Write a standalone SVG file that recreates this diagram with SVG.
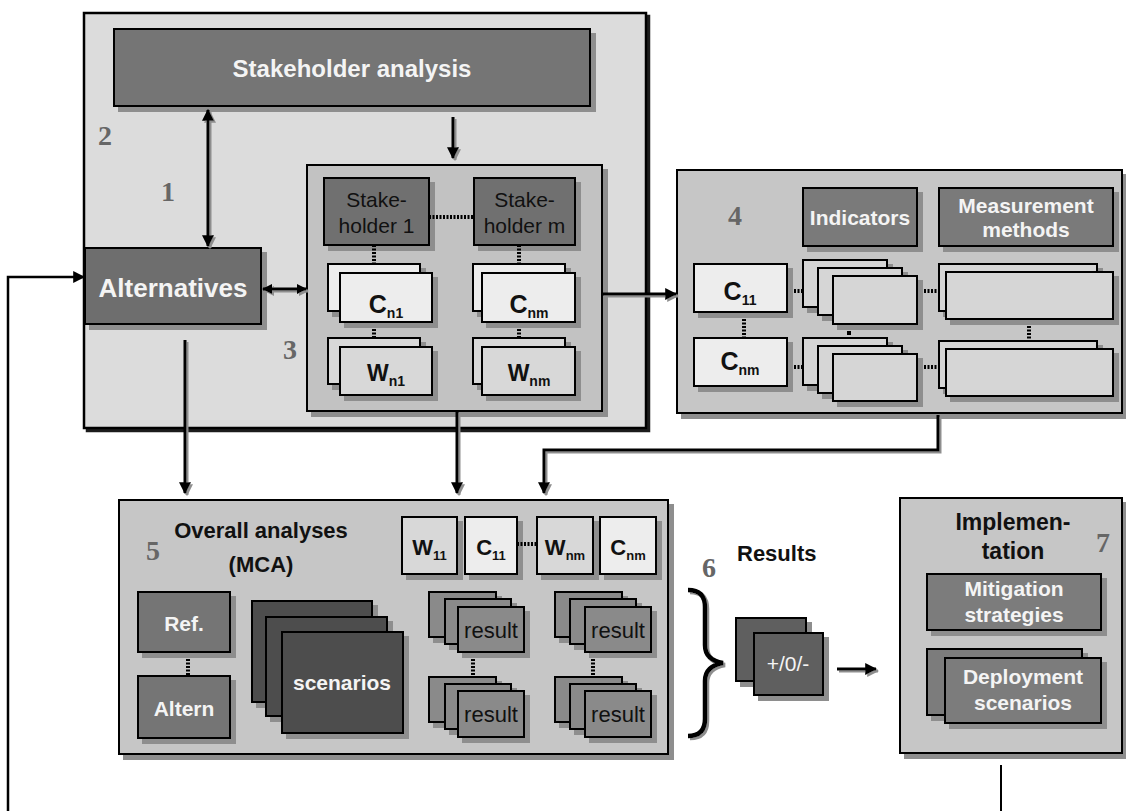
<svg xmlns="http://www.w3.org/2000/svg" width="1126" height="811" viewBox="0 0 1126 811">
  <defs>
    <filter id="sh" x="-10%" y="-10%" width="130%" height="140%">
      <feOffset in="SourceAlpha" dx="5" dy="5" result="o"/>
      <feFlood flood-color="#8e8e8e"/>
      <feComposite in2="o" operator="in" result="s"/>
      <feMerge><feMergeNode in="s"/><feMergeNode in="SourceGraphic"/></feMerge>
    </filter>
    <filter id="shd" x="-5%" y="-5%" width="110%" height="110%">
      <feOffset in="SourceAlpha" dx="3" dy="3" result="o"/>
      <feFlood flood-color="#1a1a1a"/>
      <feComposite in2="o" operator="in" result="s"/>
      <feMerge><feMergeNode in="s"/><feMergeNode in="SourceGraphic"/></feMerge>
    </filter>
    <filter id="sh2" x="-20%" y="-20%" width="140%" height="140%">
      <feOffset in="SourceAlpha" dx="2" dy="2" result="o"/>
      <feFlood flood-color="#8e8e8e"/>
      <feComposite in2="o" operator="in" result="s"/>
      <feMerge><feMergeNode in="s"/><feMergeNode in="SourceGraphic"/></feMerge>
    </filter>
    <marker id="ah" viewBox="0 0 10 10" refX="9" refY="5" markerWidth="12" markerHeight="12" markerUnits="userSpaceOnUse" orient="auto-start-reverse">
      <path d="M0,0 L10,5 L0,10 z" fill="#000"/>
    </marker>
    <marker id="ahs" viewBox="0 0 10 10" refX="9" refY="5" markerWidth="10" markerHeight="10" markerUnits="userSpaceOnUse" orient="auto-start-reverse">
      <path d="M0,0 L10,5 L0,10 z" fill="#000"/>
    </marker>
  </defs>
  <style>
    text { font-family: "Liberation Sans", Arial, sans-serif; }
    .s { filter: url(#sh); stroke: #000; stroke-width: 2; }
    .panel { fill: #c6c6c6; }
    .sub { fill: #c2c2c2; }
    .dark { fill: #747474; }
    .darker { fill: #4e4e4e; }
    .mid { fill: #8a8a8a; }
    .crit { fill: #ededed; }
    .wgt { fill: #d8d8d8; }
    .lite { fill: #d6d6d6; }
    .res { fill: #5e5e5e; }
    .wt { fill: #f4f4f4; font-weight: bold; text-anchor: middle; }
    .bt { fill: #111; text-anchor: middle; }
    .bb { fill: #111; font-weight: bold; text-anchor: middle; }
    .num { font-family: "Liberation Serif", "Times New Roman", serif; font-weight: bold; font-size: 28px; fill: #666; text-anchor: middle; }
    .dot { stroke: #000; stroke-width: 4; stroke-dasharray: 2 1.5; fill: none; }
    .arr { stroke: #000; stroke-width: 3; fill: none; }
  </style>

  <!-- 2: stakeholder frame -->
  <g id="frame2">
    <rect x="84" y="13" width="562" height="415" fill="#dcdcdc" stroke="#000" stroke-width="2.5" filter="url(#shd)"/>
    <text class="num" x="105" y="145">2</text>
    <text class="num" x="168" y="201">1</text>
    <text class="num" x="290" y="359">3</text>
  </g>

  <g id="stakeholder-analysis">
    <rect class="s dark" x="114" y="29" width="476" height="77"/>
    <text class="wt" x="352" y="77" font-size="24">Stakeholder analysis</text>
  </g>

  <g id="alternatives">
    <rect class="s" fill="#6e6e6e" x="85" y="248" width="176" height="76"/>
    <text class="wt" x="173" y="297" font-size="26">Alternatives</text>
  </g>

  <!-- 3: stakeholder criteria and weights -->
  <g id="stakeholders">
    <rect class="s sub" x="307" y="165" width="295" height="246"/>
    <rect class="s" fill="#707070" x="324" y="178" width="105" height="67"/>
    <text class="bt" x="376.5" y="207" font-size="21">Stake-</text>
    <text class="bt" x="376.5" y="233" font-size="21">holder 1</text>
    <rect class="s" fill="#707070" x="474" y="178" width="101" height="67"/>
    <text class="bt" x="524.5" y="207" font-size="21">Stake-</text>
    <text class="bt" x="524.5" y="233" font-size="21">holder m</text>
    <line class="dot" x1="429" y1="217" x2="474" y2="217"/>
    <line class="dot" x1="374" y1="245" x2="374" y2="264"/>
    <line class="dot" x1="374" y1="322" x2="374" y2="338"/>
    <line class="dot" x1="519" y1="245" x2="519" y2="264"/>
    <line class="dot" x1="519" y1="322" x2="519" y2="338"/>
    <rect class="s crit" x="328" y="264" width="92" height="47"/>
    <rect class="s crit" x="340" y="273" width="92" height="49"/>
    <text class="bb" x="386" y="313" font-size="25">C<tspan font-size="14" dy="5">n1</tspan></text>
    <rect class="s wgt" x="328" y="338" width="92" height="46"/>
    <rect class="s wgt" x="340" y="347" width="92" height="48"/>
    <text class="bb" x="386" y="381" font-size="23">W<tspan font-size="14" dy="5">n1</tspan></text>
    <rect class="s crit" x="473" y="264" width="92" height="47"/>
    <rect class="s crit" x="482" y="273" width="93" height="49"/>
    <text class="bb" x="529" y="313" font-size="25">C<tspan font-size="14" dy="5">nm</tspan></text>
    <rect class="s wgt" x="473" y="338" width="92" height="46"/>
    <rect class="s wgt" x="482" y="347" width="93" height="48"/>
    <text class="bb" x="529" y="381" font-size="23">W<tspan font-size="14" dy="5">nm</tspan></text>
  </g>

  <!-- 4: indicators and measurement methods -->
  <g id="indicators">
    <rect class="s panel" x="677" y="170" width="445" height="243"/>
    <text class="num" x="735" y="225">4</text>
    <rect class="s" fill="#7a7a7a" x="803" y="188" width="114" height="58"/>
    <text class="wt" x="860" y="225" font-size="21">Indicators</text>
    <rect class="s" fill="#7a7a7a" x="939" y="188" width="174" height="58"/>
    <text class="wt" x="1026" y="213" font-size="21">Measurement</text>
    <text class="wt" x="1026" y="237" font-size="21">methods</text>
    <line class="dot" x1="744" y1="312" x2="744" y2="338"/>
    <line class="dot" x1="787" y1="291" x2="803" y2="291"/>
    <line class="dot" x1="787" y1="367" x2="803" y2="367"/>
    <line class="dot" x1="917" y1="291" x2="939" y2="291"/>
    <line class="dot" x1="917" y1="367" x2="939" y2="367"/>
    <line class="dot" x1="1029" y1="319" x2="1029" y2="341"/>
    <rect x="847" y="331" width="4" height="4" fill="#000"/>
    <rect class="s crit" x="694" y="264" width="93" height="48"/>
    <text class="bb" x="740" y="300" font-size="25">C<tspan font-size="14" dy="5">11</tspan></text>
    <rect class="s crit" x="694" y="338" width="93" height="48"/>
    <text class="bb" x="740" y="370" font-size="25">C<tspan font-size="14" dy="5">nm</tspan></text>
    <rect class="s lite" x="803" y="260" width="84" height="47"/>
    <rect class="s lite" x="818" y="268" width="84" height="47"/>
    <rect class="s lite" x="833" y="276" width="84" height="48"/>
    <rect class="s lite" x="803" y="338" width="84" height="47"/>
    <rect class="s lite" x="818" y="346" width="84" height="47"/>
    <rect class="s lite" x="833" y="354" width="84" height="47"/>
    <rect class="s lite" x="939" y="264" width="158" height="47"/>
    <rect class="s lite" x="946" y="272" width="167" height="47"/>
    <rect class="s lite" x="939" y="341" width="158" height="47"/>
    <rect class="s lite" x="946" y="349" width="167" height="47"/>
  </g>

  <!-- 5: overall analyses -->
  <g id="mca">
    <rect class="s panel" x="119" y="500" width="549" height="254"/>
    <text class="num" x="153" y="560">5</text>
    <text class="bb" x="261" y="538" font-size="22">Overall analyses</text>
    <text class="bb" x="261" y="572" font-size="22">(MCA)</text>
    <rect class="s wgt" x="402" y="517" width="55" height="57"/>
    <text class="bb" x="429.5" y="555" font-size="22">W<tspan font-size="13" dy="5">11</tspan></text>
    <rect class="s crit" x="465" y="517" width="52" height="57"/>
    <text class="bb" x="491" y="555" font-size="22">C<tspan font-size="13" dy="5">11</tspan></text>
    <rect class="s wgt" x="537" y="517" width="56" height="57"/>
    <text class="bb" x="565" y="555" font-size="22">W<tspan font-size="13" dy="5">nm</tspan></text>
    <rect class="s crit" x="600" y="517" width="56" height="57"/>
    <text class="bb" x="628" y="555" font-size="22">C<tspan font-size="13" dy="5">nm</tspan></text>
    <line class="dot" x1="517" y1="544" x2="537" y2="544"/>
    <line class="dot" x1="188" y1="652" x2="188" y2="676"/>
    <line class="dot" x1="473" y1="652" x2="473" y2="677"/>
    <line class="dot" x1="593" y1="652" x2="593" y2="677"/>
    <rect class="s dark" x="138" y="592" width="92" height="60"/>
    <text class="wt" x="184" y="631" font-size="21">Ref.</text>
    <rect class="s dark" x="138" y="676" width="92" height="62"/>
    <text class="wt" x="184" y="716" font-size="21">Altern</text>
    <rect class="s darker" x="252" y="601" width="120" height="101"/>
    <rect class="s darker" x="266" y="617" width="121" height="99"/>
    <rect class="s darker" x="282" y="632" width="121" height="101"/>
    <text class="wt" x="342" y="690" font-size="21">scenarios</text>
    <rect class="s mid" x="429" y="592" width="67" height="45"/>
    <rect class="s mid" x="445" y="599" width="66" height="45"/>
    <rect class="s mid" x="458" y="607" width="66" height="45"/>
    <text class="bt" x="491" y="638" font-size="22">result</text>
    <rect class="s mid" x="429" y="677" width="67" height="45"/>
    <rect class="s mid" x="445" y="684" width="66" height="45"/>
    <rect class="s mid" x="458" y="691" width="66" height="46"/>
    <text class="bt" x="491" y="722" font-size="22">result</text>
    <rect class="s mid" x="555" y="592" width="67" height="45"/>
    <rect class="s mid" x="570" y="599" width="66" height="45"/>
    <rect class="s mid" x="585" y="607" width="66" height="45"/>
    <text class="bt" x="618" y="638" font-size="22">result</text>
    <rect class="s mid" x="555" y="677" width="67" height="45"/>
    <rect class="s mid" x="570" y="684" width="66" height="45"/>
    <rect class="s mid" x="585" y="691" width="66" height="46"/>
    <text class="bt" x="618" y="722" font-size="22">result</text>
  </g>

  <!-- 6: results -->
  <g id="results">
    <text class="num" x="709" y="577">6</text>
    <text x="737" y="561" font-size="22" font-weight="bold" fill="#111">Results</text>
    <path d="M688 590 Q705 590 705 607 V645 Q705 660 723 663 Q705 666 705 681 V719 Q705 736 688 736" fill="none" stroke="#000" stroke-width="4.5" filter="url(#sh2)"/>
    <rect class="s res" x="736" y="618" width="70" height="63"/>
    <rect class="s res" x="754" y="633" width="69" height="62"/>
    <text x="788" y="671" font-size="21" fill="#f4f4f4" text-anchor="middle">+/0/-</text>
  </g>

  <!-- 7: implementation -->
  <g id="implementation">
    <rect class="s panel" x="900" y="498" width="222" height="255"/>
    <text class="bb" x="1013" y="530" font-size="23">Implemen-</text>
    <text class="bb" x="1013" y="559" font-size="23">tation</text>
    <text class="num" x="1103" y="552">7</text>
    <rect class="s" fill="#7c7c7c" x="927" y="574" width="174" height="56"/>
    <text class="wt" x="1014" y="596" font-size="21">Mitigation</text>
    <text class="wt" x="1014" y="622" font-size="21">strategies</text>
    <rect class="s" fill="#7c7c7c" x="927" y="649" width="155" height="66"/>
    <rect class="s" fill="#7c7c7c" x="945" y="658" width="156" height="65"/>
    <text class="wt" x="1023" y="684" font-size="21">Deployment</text>
    <text class="wt" x="1023" y="710" font-size="21">scenarios</text>
  </g>

  <!-- connectors -->
  <g id="connectors" filter="url(#sh2)">
    <line class="arr" x1="208" y1="110" x2="208" y2="246" marker-start="url(#ah)" marker-end="url(#ah)"/>
    <line class="arr" x1="453" y1="117" x2="453" y2="158" marker-end="url(#ah)"/>
    <line class="arr" x1="263" y1="289" x2="306" y2="289" marker-start="url(#ahs)" marker-end="url(#ahs)"/>
    <line class="arr" stroke-width="4" x1="602" y1="294" x2="676" y2="294" marker-end="url(#ah)"/>
    <line class="arr" x1="185" y1="340" x2="185" y2="493" marker-end="url(#ah)"/>
    <line class="arr" x1="457" y1="411" x2="457" y2="493" marker-end="url(#ah)"/>
    <path class="arr" d="M938 415 V450 H544 V493" marker-end="url(#ah)"/>
    <line class="arr" stroke-width="4" x1="837" y1="669" x2="876" y2="669" marker-end="url(#ah)"/>
  </g>
  <g id="feedback">
    <path d="M8 811 V277 H84" fill="none" stroke="#000" stroke-width="2.5" marker-end="url(#ah)"/>
    <line x1="1001" y1="765" x2="1001" y2="811" stroke="#000" stroke-width="2"/>
  </g>
</svg>
